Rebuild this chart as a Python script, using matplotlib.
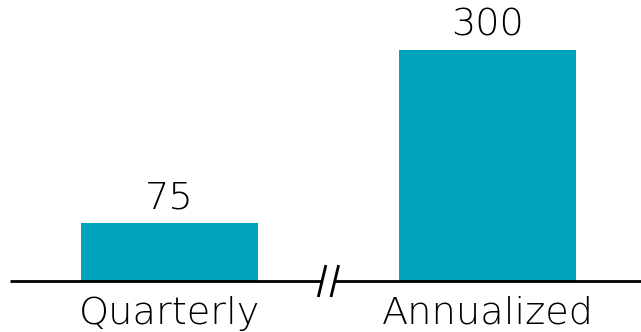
import matplotlib.pyplot as plt

categories = ["Quarterly", "Annualized"]
values = [75, 300]

bar_color = "#00a3bd"

fig = plt.figure(figsize=(6.41, 3.32), dpi=100)
ax = fig.add_axes([0, 0, 1, 1])

x = range(len(categories))
ax.bar(x, values, width=0.557, color=bar_color)

ax.set_xlim(-0.533, 1.483)
ax.set_ylim(-66.2, 364.9)
ax.axis("off")

# baseline, broken between the two bars
ax.plot([-0.5, 0.48], [0, 0], color="black", lw=2, solid_capstyle="butt")
ax.plot([0.52, 1.483], [0, 0], color="black", lw=2, solid_capstyle="butt")
for dx in (-0.02, 0.02):
    ax.plot([0.5 + dx - 0.011, 0.5 + dx + 0.011], [-19, 19], color="black", lw=2)

font = dict(fontsize=27.5, fontweight="light", family="DejaVu Sans", color="black")
for xi, cat, val in zip(x, categories, values):
    ax.text(xi, val + 10, str(val), ha="center", va="bottom", **font)
    ax.text(xi, -19, cat, ha="center", va="top", **font)

fig.savefig("out.png", dpi=100)
